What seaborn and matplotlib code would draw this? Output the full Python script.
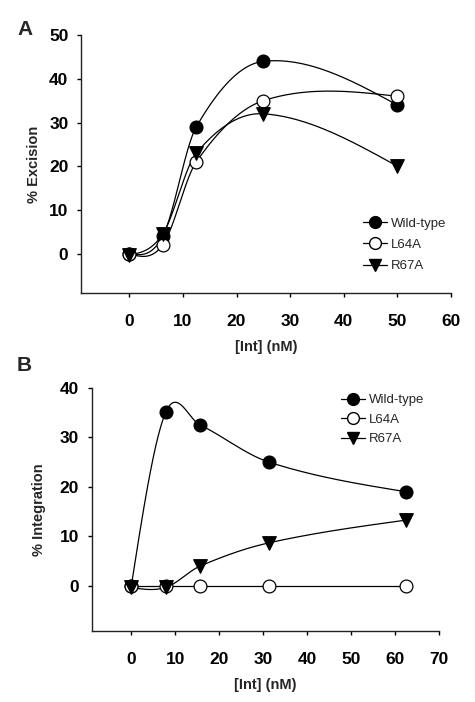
"""
Excision / integration vs [Int] — two panels, smooth spline through points.
"""
import numpy as np
import pandas as pd
import matplotlib
matplotlib.use("Agg")
import matplotlib.pyplot as plt
from matplotlib.lines import Line2D
import seaborn as sns

# Panel A — excision
conc_a = [0, 6.25, 12.5, 25, 50]
wt_a = [0, 4, 29, 44, 34]
l64a_a = [0, 2, 21, 35, 36]
r67a_a = [-0.3, 4.5, 23, 32, 20]

# Panel B — integration
conc_b = [0, 7.8, 15.6, 31.25, 62.5]
wt_b = [0, 35, 32.5, 25, 19]
l64a_b = [0, 0, 0, 0, 0]
r67a_b = [-0.3, -0.3, 4, 8.7, 13.3]

series_names = ["Wild-type", "L64A", "R67A"]


def smooth_curve(x, y, n=60):
    """Cubic Hermite curve through the points (central-difference slopes)."""
    x = np.asarray(x, float)
    y = np.asarray(y, float)
    k = len(x)
    m = np.zeros(k)
    for i in range(1, k - 1):
        m[i] = (y[i + 1] - y[i - 1]) / (x[i + 1] - x[i - 1])
    m[0] = 1.5 * (y[1] - y[0]) / (x[1] - x[0]) - 0.5 * m[1]
    m[-1] = 1.5 * (y[-1] - y[-2]) / (x[-1] - x[-2]) - 0.5 * m[-2]
    xs_all, ys_all = [], []
    for i in range(k - 1):
        h = x[i + 1] - x[i]
        t = np.linspace(0, 1, n)
        h00 = 2 * t ** 3 - 3 * t ** 2 + 1
        h10 = t ** 3 - 2 * t ** 2 + t
        h01 = -2 * t ** 3 + 3 * t ** 2
        h11 = t ** 3 - t ** 2
        xs_all.append(x[i] + t * h)
        ys_all.append(h00 * y[i] + h10 * h * m[i] + h01 * y[i + 1] + h11 * h * m[i + 1])
    return np.concatenate(xs_all), np.concatenate(ys_all)


sns.set_style("ticks")
plt.rcParams["font.family"] = ["Liberation Sans", "DejaVu Sans"]

styles = {
    "Wild-type": dict(marker="o", facecolor="black", size=85),
    "L64A": dict(marker="o", facecolor="white", size=85),
    "R67A": dict(marker="v", facecolor="black", size=95),
}

fig = plt.figure(figsize=(4.75, 7.02), dpi=100)
ax_a = fig.add_axes([0.1705, 0.5826, 0.779, 0.3674])
ax_b = fig.add_axes([0.193, 0.101, 0.732, 0.3467])


def draw_panel(ax, conc, data, ylabel, xlim, ylim, xticks, yticks,
               legend_anchor, legend_spacing, ylabelpad):
    for name, vals in zip(series_names, data):
        xs, ys = smooth_curve(conc, vals)
        sns.lineplot(x=xs, y=ys, ax=ax, color="black", lw=0.9, sort=False)
    for name, vals in zip(series_names, data):
        st = styles[name]
        df = pd.DataFrame({"x": conc, "y": vals})
        sns.scatterplot(data=df, x="x", y="y", ax=ax, marker=st["marker"],
                        s=st["size"], color=st["facecolor"],
                        edgecolor="black", linewidth=0.9, zorder=3)
    ax.set_xlim(*xlim)
    ax.set_ylim(*ylim)
    ax.set_xticks(xticks)
    ax.set_yticks(yticks)
    sns.despine(ax=ax)
    for s in ["left", "bottom"]:
        ax.spines[s].set_linewidth(1.0)
        ax.spines[s].set_color("#222222")
    ax.tick_params(direction="out", length=3, width=1, colors="black",
                   labelsize=12.5)
    ax.tick_params(axis="x", pad=12)
    ax.tick_params(axis="y", pad=6)
    for lab in ax.get_xticklabels() + ax.get_yticklabels():
        lab.set_fontweight("bold")
    ax.set_xlabel("[Int] (nM)", fontsize=10.5, fontweight="bold", labelpad=8)
    ax.set_ylabel(ylabel, fontsize=10.5, fontweight="bold", labelpad=ylabelpad)

    handles = []
    for name in series_names:
        st = styles[name]
        handles.append(Line2D([0], [0], color="black", lw=0.9,
                              marker=st["marker"], markersize=8.5,
                              markerfacecolor=st["facecolor"],
                              markeredgecolor="black"))
    ax.legend(handles, series_names, loc="upper left",
              bbox_to_anchor=legend_anchor, frameon=False,
              fontsize=9.5, handlelength=1.8, handletextpad=0.3,
              labelspacing=legend_spacing, borderaxespad=0)


draw_panel(ax_a, conc_a, [wt_a, l64a_a, r67a_a], "% Excision",
           (-9, 60), (-9, 50), [0, 10, 20, 30, 40, 50, 60],
           [0, 10, 20, 30, 40, 50], (0.749, 0.314), 0.7, 6)
draw_panel(ax_b, conc_b, [wt_b, l64a_b, r67a_b], "% Integration",
           (-9, 70), (-9.1, 40), [0, 10, 20, 30, 40, 50, 60, 70],
           [0, 10, 20, 30, 40], (0.703, 0.995), 0.55, 10)

fig.text(0.036, 0.950, "A", fontsize=15, fontweight="bold", va="baseline")
fig.text(0.036, 0.4715, "B", fontsize=15, fontweight="bold", va="baseline")

fig.savefig("out.png", dpi=100)
